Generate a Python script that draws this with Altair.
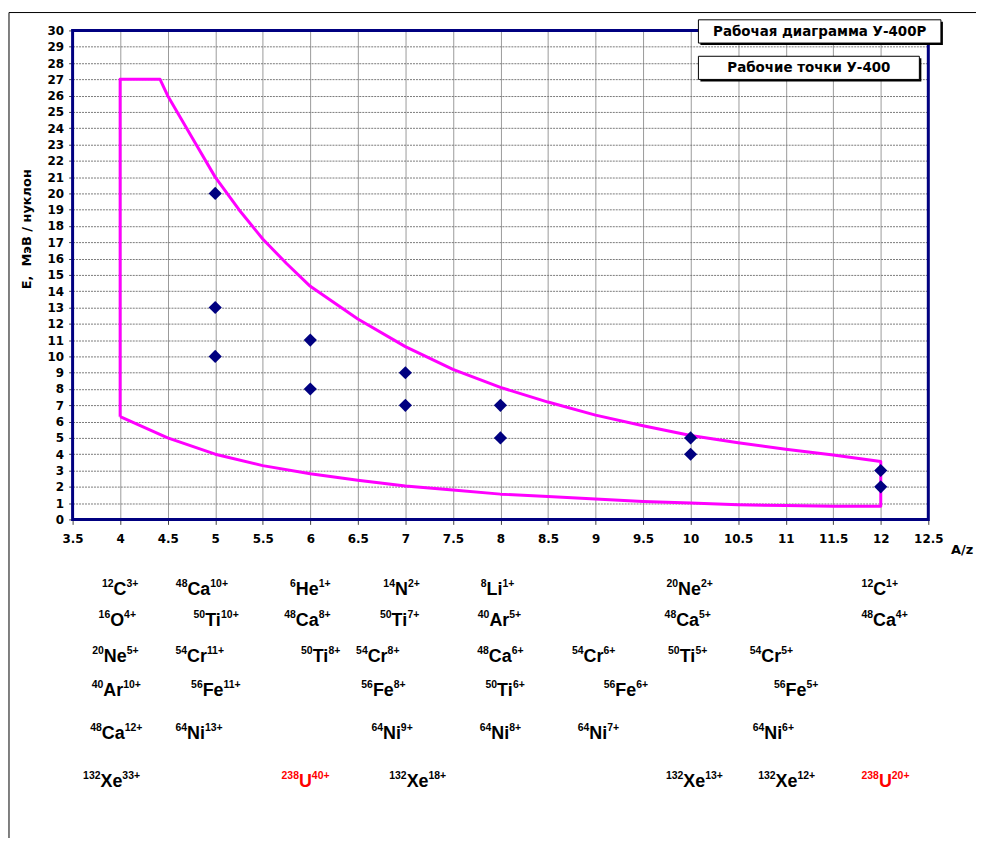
import altair as alt
import pandas as pd

# ---------------- data ----------------
# working diagram contour of U-400R (closed path), A/z and E [MeV/nucleon]
bound_az = [4.0, 4.0, 4.42, 4.5, 4.75, 5.0, 5.25, 5.5, 5.75, 6.0, 6.5, 7.0, 7.5, 8.0, 8.5,
            9.0, 9.5, 10.0, 10.5, 11.0, 11.5, 12.0,
            12.0, 11.5, 11.0, 10.5, 10.0, 9.5, 9.0, 8.5, 8.0, 7.5, 7.0, 6.5, 6.0, 5.5,
            5.0, 4.5, 4.0]
bound_e = [6.3, 27.0, 27.0, 26.0, 23.5, 21.0, 19.0, 17.2, 15.7, 14.3, 12.3, 10.6, 9.2, 8.1, 7.2,
           6.4, 5.75, 5.15, 4.7, 4.3, 3.95, 3.55,
           0.8, 0.8, 0.85, 0.9, 1.0, 1.1, 1.25, 1.4, 1.55, 1.8, 2.05, 2.4, 2.8, 3.3,
           4.0, 5.0, 6.3]

# working points of U-400
pts_az = [5, 5, 5, 6, 6, 7, 7, 8, 8, 10, 10, 12, 12]
pts_e = [20, 13, 10, 11, 8, 9, 7, 7, 5, 5, 4, 3, 2]

# ion labels below the chart
ion_mass = ["12", "48", "6", "14", "8", "20", "12",
            "16", "50", "48", "50", "40", "48", "48",
            "20", "54", "50", "54", "48", "54", "50", "54",
            "40", "56", "56", "50", "56", "56",
            "48", "64", "64", "64", "64", "64",
            "132", "238", "132", "132", "132", "238"]
ion_symbol = ["C", "Ca", "He", "N", "Li", "Ne", "C",
              "O", "Ti", "Ca", "Ti", "Ar", "Ca", "Ca",
              "Ne", "Cr", "Ti", "Cr", "Ca", "Cr", "Ti", "Cr",
              "Ar", "Fe", "Fe", "Ti", "Fe", "Fe",
              "Ca", "Ni", "Ni", "Ni", "Ni", "Ni",
              "Xe", "U", "Xe", "Xe", "Xe", "U"]
ion_charge = ["3+", "10+", "1+", "2+", "1+", "2+", "1+",
              "4+", "10+", "8+", "7+", "5+", "5+", "4+",
              "5+", "11+", "8+", "8+", "6+", "6+", "5+", "5+",
              "10+", "11+", "8+", "6+", "6+", "5+",
              "12+", "13+", "9+", "8+", "7+", "6+",
              "33+", "40+", "18+", "13+", "12+", "20+"]
ion_pos = [4.0, 4.86, 6.0, 6.96, 7.97, 9.99, 11.99,
           3.97, 5.01, 5.97, 6.94, 7.99, 9.97, 12.04,
           3.95, 4.84, 6.11, 6.71, 8.0, 8.98, 9.97, 10.85,
           3.96, 5.01, 6.77, 8.05, 9.32, 11.11,
           3.96, 4.83, 6.86, 8.0, 9.03, 10.87,
           3.91, 5.95, 7.13, 10.04, 11.01, 12.05]
ion_row = [1] * 7 + [2] * 7 + [3] * 8 + [4] * 6 + [5] * 6 + [6] * 6

x_ticks = [3.5, 4, 4.5, 5, 5.5, 6, 6.5, 7, 7.5, 8, 8.5, 9, 9.5, 10, 10.5, 11, 11.5, 12, 12.5]
y_ticks = [0, 1, 2, 3, 4, 5, 6, 7, 8, 9, 10, 11, 12, 13, 14, 15, 16, 17, 18, 19, 20,
           21, 22, 23, 24, 25, 26, 27, 28, 29, 30]

# ---------------- layout ----------------
W, H = 861, 492
X0, X1 = 3.5, 12.5
ROW_BASE = {1: 568, 2: 599, 3: 635, 4: 670, 5: 713, 6: 761}  # px below plot top
SYM, SUP = 18, 10.5
LFONT = "Liberation Sans, Arial, sans-serif"
AFONT = "DejaVu Sans, sans-serif"

# approximate Arial-bold advance widths (per 1000 em) for label layout
CW = {"0": 556, "1": 556, "2": 556, "3": 556, "4": 556, "5": 556, "6": 556, "7": 556,
      "8": 556, "9": 556, "+": 584, "C": 722, "a": 556, "H": 722, "e": 556, "N": 722,
      "L": 611, "i": 278, "O": 778, "T": 611, "A": 722, "r": 389, "F": 611, "X": 667,
      "U": 722}


def tw(s, size):
    return sum(CW.get(c, 600) for c in s) * size / 1000.0


rows = []
for m, s, c, p, r in zip(ion_mass, ion_symbol, ion_charge, ion_pos, ion_row):
    wm, ws, wc = tw(m, SUP), tw(s, SYM), tw(c, SUP)
    total = wm + ws + wc
    start = -total / 2 + wm
    col = "#FF0000" if s == "U" else "#000000"
    base = ROW_BASE[r]
    rows.append(dict(kind="m", t=m, az=p, off=start, by=base - 8, col=col))
    rows.append(dict(kind="s", t=s, az=p, off=start, by=base, col=col))
    rows.append(dict(kind="c", t=c, az=p, off=start + ws, by=base - 8, col=col))
lab = pd.DataFrame(rows)

bound_df = pd.DataFrame({"az": bound_az, "e": bound_e, "i": list(range(len(bound_az)))})
pts_df = pd.DataFrame({"az": pts_az, "e": pts_e})
one = pd.DataFrame({"k": [0]})

xscale = alt.Scale(domain=[X0, X1], nice=False, zero=False)
yscale = alt.Scale(domain=[0, 30], nice=False, zero=False)

x_axis = alt.Axis(values=x_ticks, format=".1~f", title=None, grid=True, gridColor="#9a9a9a",
                  gridWidth=1, tickSize=5, labelPadding=9, labelFlush=False, labelOverlap=False)
y_axis = alt.Axis(values=y_ticks, format="d", title=None, grid=True, gridColor="#7a7a7a",
                  gridDash=[2, 1], gridWidth=1, tickSize=4, labelPadding=5, labelFlush=False,
                  labelOverlap=False, tickCount=31)

boundary = alt.Chart(bound_df).mark_line(color="#FF00FF", strokeWidth=3, strokeJoin="round").encode(
    x=alt.X("az:Q", scale=xscale, axis=x_axis),
    y=alt.Y("e:Q", scale=yscale, axis=y_axis),
    order="i:Q",
)

points = alt.Chart(pts_df).mark_point(shape="diamond", filled=True, size=175, color="#000080",
                                      opacity=1).encode(
    x=alt.X("az:Q", scale=xscale, axis=x_axis),
    y=alt.Y("e:Q", scale=yscale, axis=y_axis),
)

border = alt.Chart(one).mark_rect(fillOpacity=0, stroke="#000080", strokeWidth=3).encode(
    x=alt.value(0), x2=alt.value(W), y=alt.value(0), y2=alt.value(H))

frame = alt.Chart(one).mark_rect(fillOpacity=0, stroke="#000000", strokeWidth=1).encode(
    x=alt.value(-64), x2=alt.value(1000), y=alt.value(-18), y2=alt.value(900))


def legend_box(x1, y1, x2, y2, text):
    shadow = alt.Chart(one).mark_rect(color="#000000").encode(
        x=alt.value(x1 + 2), x2=alt.value(x2 + 2), y=alt.value(y1 + 2), y2=alt.value(y2 + 2))
    box = alt.Chart(one).mark_rect(fill="#FFFFFF", stroke="#000000", strokeWidth=1).encode(
        x=alt.value(x1), x2=alt.value(x2), y=alt.value(y1), y2=alt.value(y2))
    txt = alt.Chart(one).mark_text(font=AFONT, fontWeight="bold", fontSize=13.5, align="center",
                                   baseline="middle", color="#000000").encode(
        x=alt.value((x1 + x2) / 2), y=alt.value((y1 + y2) / 2 + 0.5), text=alt.value(text))
    return [shadow, box, txt]


leg1 = legend_box(629.7, -10.7, 873.7, 12.7, "Рабочая диаграмма У-400Р")
leg2 = legend_box(629.7, 26.0, 852.0, 49.3, "Рабочие точки У-400")

ytitle = alt.Chart(one).mark_text(font=AFONT, fontWeight="bold", fontSize=13, angle=270,
                                  align="center", baseline="middle", color="#000000").encode(
    x=alt.value(-46), y=alt.value(200), text=alt.value("E,\u00a0\u00a0МэВ / нуклон"))
xtitle = alt.Chart(one).mark_text(font=AFONT, fontWeight="bold", fontSize=13, align="center",
                                  baseline="middle", color="#000000").encode(
    x=alt.value(895), y=alt.value(523), text=alt.value("A/z"))

calc = f"(datum.az - {X0}) / ({X1 - X0}) * {W} + datum.off"


def label_layer(kind, align, size):
    return alt.Chart(lab).transform_filter(alt.datum.kind == kind).transform_calculate(
        px=calc).mark_text(font=LFONT, fontWeight="bold", fontSize=size, align=align,
                           baseline="alphabetic").encode(
        x=alt.X("px:Q", scale=None),
        y=alt.Y("by:Q", scale=None),
        text="t:N",
        color=alt.Color("col:N", scale=None),
    )


labels = [label_layer("m", "right", SUP), label_layer("s", "left", SYM),
          label_layer("c", "left", SUP)]

chart = alt.layer(frame, boundary, border, points, *leg1, *leg2, ytitle, xtitle,
                  *labels).properties(
    width=W, height=H,
    autosize=alt.AutoSizeParams(type="none"),
    padding={"left": 65, "top": 20, "right": 48, "bottom": 318},
    background="#FFFFFF",
).configure_view(
    strokeWidth=0
).configure_axis(
    labelFont=AFONT, labelFontWeight="bold", labelFontSize=12, labelColor="#000000",
    domain=False, tickColor="#404040", tickWidth=1,
)

chart.save("out.html", embed_options={"renderer": "svg", "actions": False})
